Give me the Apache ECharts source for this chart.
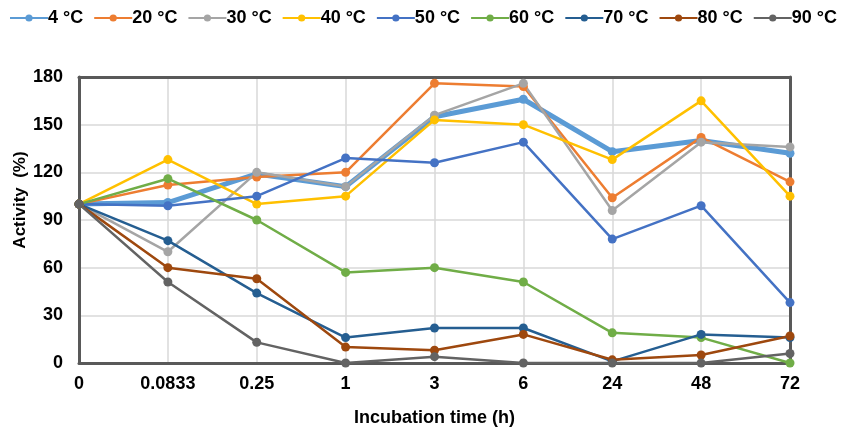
<!DOCTYPE html>
<html>
<head>
<meta charset="utf-8">
<script src="https://cdn.jsdelivr.net/npm/echarts@6/dist/echarts.min.js"></script>
<style>
  html, body { margin: 0; padding: 0; background: #fff; }
  #chart { width: 842px; height: 430px; }
</style>
</head>
<body>
<div id="chart"></div>
<script>
// time points (h), used as categories
var times = ['0', '0.0833', '0.25', '1', '3', '6', '24', '48', '72'];
var yTicks = [0, 30, 60, 90, 120, 150, 180];

var names = ['4 °C', '20 °C', '30 °C', '40 °C', '50 °C', '60 °C', '70 °C', '80 °C', '90 °C'];
var colors = ['#5B9BD5', '#ED7D31', '#A5A5A5', '#FFC000', '#4472C4', '#70AD47', '#255E91', '#9E480E', '#636363'];

// activity (%)
var t4  = [100, 101, 119, 111, 155, 166, 133, 140, 132];
var t20 = [100, 112, 117, 120, 176, 174, 104, 142, 114];
var t30 = [100, 70, 120, 111, 156, 176, 96, 139, 136];
var t40 = [100, 128, 100, 105, 153, 150, 128, 165, 105];
var t50 = [100, 99, 105, 129, 126, 139, 78, 99, 38];
var t60 = [100, 116, 90, 57, 60, 51, 19, 16, 0];
var t70 = [100, 77, 44, 16, 22, 22, 1, 18, 16];
var t80 = [100, 60, 53, 10, 8, 18, 2, 5, 17];
var t90 = [100, 51, 13, 0, 4, 0, 0, 0, 6];

var allData = [t4, t20, t30, t40, t50, t60, t70, t80, t90];

var fontFam = '"Liberation Sans", Arial, sans-serif';
var frame = { show: true, onZero: false, lineStyle: { color: '#595959', width: 3 } };
var gridLine = { show: true, lineStyle: { color: '#d9d9d9', width: 1.5 } };

var myChart = echarts.init(document.getElementById('chart'));

var series = names.map(function (n, i) {
  return {
    name: n,
    type: 'line',
    data: allData[i],
    symbol: 'circle',
    symbolSize: 9,
    lineStyle: { width: i === 0 ? 5 : 2.5, color: colors[i] },
    itemStyle: { color: colors[i] },
    emphasis: { disabled: true },
    z: 5
  };
});

myChart.setOption({
  animation: false,
  color: colors,
  legend: {
    data: names,
    top: 9,
    left: 9,
    right: 0,
    padding: 0,
    itemWidth: 38,
    itemHeight: 9,
    itemGap: 10,
    textStyle: {
      fontFamily: fontFam,
      fontSize: 18,
      fontWeight: 'bold',
      color: '#000',
      padding: [0, 0, 0, -5]
    }
  },
  grid: {
    left: 79,
    right: 52,
    top: 77,
    bottom: 67,
    outerBoundsMode: 'none'
  },
  xAxis: [{
    type: 'category',
    data: times,
    boundaryGap: false,
    name: 'Incubation time (h)',
    nameLocation: 'middle',
    nameGap: 46,
    nameMoveOverlap: false,
    nameTextStyle: { fontFamily: fontFam, fontSize: 18, fontWeight: 'bold', color: '#000' },
    axisLine: frame,
    axisTick: { show: false },
    axisLabel: { fontFamily: fontFam, fontSize: 18, fontWeight: 'bold', color: '#000', margin: 12, interval: 0 },
    splitLine: gridLine,
    z: 3
  }, {
    type: 'category',
    data: times,
    boundaryGap: false,
    position: 'top',
    axisLine: frame,
    axisTick: { show: false },
    axisLabel: { show: false },
    splitLine: { show: false },
    z: 3
  }],
  yAxis: [{
    type: 'value',
    min: yTicks[0],
    max: yTicks[yTicks.length - 1],
    interval: 30,
    name: 'Activity  (%)',
    nameLocation: 'middle',
    nameGap: 50,
    nameMoveOverlap: false,
    nameTextStyle: { fontFamily: fontFam, fontSize: 17, fontWeight: 'bold', color: '#000', padding: [0, 0, 0, 40] },
    axisLine: frame,
    axisTick: { show: false },
    axisLabel: { fontFamily: fontFam, fontSize: 18, fontWeight: 'bold', color: '#000', margin: 16 },
    splitLine: gridLine,
    z: 3
  }, {
    type: 'value',
    min: yTicks[0],
    max: yTicks[yTicks.length - 1],
    interval: 30,
    position: 'right',
    axisLine: frame,
    axisTick: { show: false },
    axisLabel: { show: false },
    splitLine: { show: false },
    z: 3
  }],
  series: series
});
</script>
</body>
</html>
